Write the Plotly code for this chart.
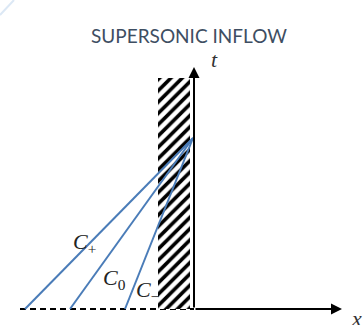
import plotly.graph_objects as go

# --- data (diagram units: origin at axes intersection, t upward) ---
char_names = ["<i>C</i><sub>+</sub>", "<i>C</i><sub>0</sub>", "<i>C</i><sub>\u2212</sub>"]
char_foot_x = [-169, -124, -69]          # where characteristics start on the t=0 line
meet_point = (-1, 171)                   # point on the boundary where they meet
label_x = [-110, -80, -47]
label_t = [66, 30, 18]
wall_x = [-36, -4]
wall_t = [0, 231]
x_axis_end = 148
t_axis_end = 242
dash_start = -174

BLUE = "#4a7cb8"

fig = go.Figure()

# dashed initial line
fig.add_trace(go.Scatter(x=[dash_start, 0], y=[0, 0], mode="lines",
                         line=dict(color="black", width=2, dash="6px,4px"),
                         hoverinfo="skip", showlegend=False))

# hatched wall
fig.add_trace(go.Scatter(
    x=[wall_x[0], wall_x[1], wall_x[1], wall_x[0], wall_x[0]],
    y=[wall_t[0], wall_t[0], wall_t[1], wall_t[1], wall_t[0]],
    mode="lines", fill="toself", fillcolor="white",
    fillpattern=dict(shape="/", size=8, solidity=0.45, fgcolor="black",
                     fgopacity=1, bgcolor="white"),
    line=dict(width=0, color="rgba(0,0,0,0)"),
    hoverinfo="skip", showlegend=False))

# characteristics
for fx in char_foot_x:
    fig.add_trace(go.Scatter(x=[fx, meet_point[0]], y=[0, meet_point[1]], mode="lines",
                             line=dict(color=BLUE, width=2),
                             hoverinfo="skip", showlegend=False))

annotations = []
# axes arrows
annotations.append(dict(x=0, y=t_axis_end, ax=0, ay=0, xref="x", yref="y", axref="x", ayref="y",
                        text="", showarrow=True, arrowhead=2, arrowsize=1.1, arrowwidth=2,
                        arrowcolor="black"))
annotations.append(dict(x=x_axis_end, y=0, ax=0, ay=0, xref="x", yref="y", axref="x", ayref="y",
                        text="", showarrow=True, arrowhead=2, arrowsize=1.1, arrowwidth=2,
                        arrowcolor="black"))
# axis labels
annotations.append(dict(x=20, y=250, xref="x", yref="y", text="<i>t</i>", showarrow=False,
                        font=dict(family="Liberation Serif", size=22, color="#333")))
annotations.append(dict(x=162, y=-9, xref="x", yref="y", text="<i>x</i>", showarrow=False,
                        font=dict(family="Liberation Serif", size=22, color="#333")))
# characteristic labels
for name, lx, lt in zip(char_names, label_x, label_t):
    annotations.append(dict(x=lx, y=lt, xref="x", yref="y", text=name, showarrow=False,
                            font=dict(family="Liberation Serif", size=22, color="#222")))
# title
annotations.append(dict(x=189 / 363, y=1 - 22 / 325, xref="paper", yref="paper",
                        text="SUPERSONIC INFLOW", showarrow=False,
                        font=dict(family="Lato", size=19, color="#3E4E62")))

fig.update_layout(
    width=363, height=325, margin=dict(l=0, r=0, t=0, b=0),
    paper_bgcolor="white", plot_bgcolor="white",
    xaxis=dict(range=[-194, 169], visible=False, fixedrange=True),
    yaxis=dict(range=[-16, 309], visible=False, fixedrange=True),
    annotations=annotations,
    shapes=[dict(type="line", xref="paper", yref="paper", x0=0, y0=1 - 15 / 325, x1=14 / 363, y1=1,
                 line=dict(color="#dce8f5", width=2))],
    showlegend=False,
)

fig.write_html("out.html")
